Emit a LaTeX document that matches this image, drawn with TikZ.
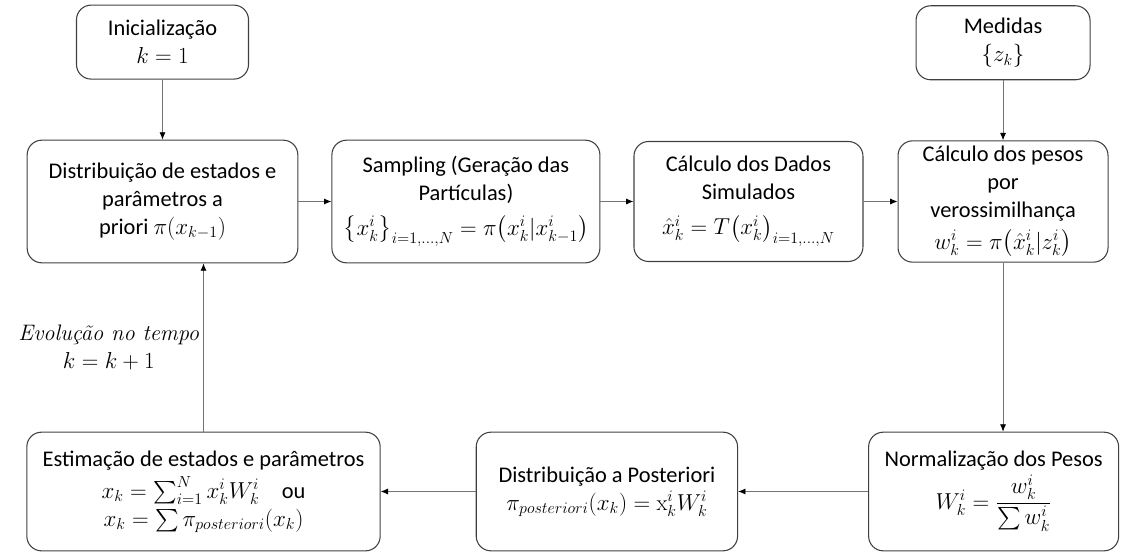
\documentclass[tikz,border=0pt]{standalone}
\usepackage{fontspec}
\setsansfont{Carlito}
\renewcommand{\familydefault}{\sfdefault}
\usepackage{amssymb,amsmath}
\usetikzlibrary{
arrows.meta,
positioning
}
\tikzset{>=latex}
\tikzset{
	blk/.style={draw=black!75,line width=0.8pt,rounded corners=11pt,align=center,inner sep=2pt},
	flow/.style={draw=black!55,line width=0.6pt,-{Latex[length=5.5pt,width=4.5pt,color=black]}}
}

\begin{document}
\begin{tikzpicture}[x=0.75pt,y=-0.75pt, node distance=24.75pt, font=\fontsize{16.8}{21}\selectfont]
	\useasboundingbox (0,0) rectangle (1127,553);

	% middle row
	\node[blk,minimum width=203pt,minimum height=92pt] (priori) at (162.5,201.5) {Distribuição de estados e\\parâmetros a\\priori $\pi(x_{k-1})$};
	\node[blk,minimum width=201pt,minimum height=92pt,right=of priori] (sampling) {Sampling (Geração das\\Partículas)\\[5pt]$\bigl\{x_k^i\bigr\}_{i=1,\dots,N}=\pi\bigl(x_k^i|x_{k-1}^i\bigr)$};
	\node[blk,minimum width=171.75pt,minimum height=90pt,right=of sampling] (dados) {Cálculo dos Dados\\Simulados\\[5pt]$\hat{x}_k^i=T\bigl(x_k^i\bigr)_{i=1,\dots,N}$};
	\node[blk,minimum width=157.5pt,minimum height=91pt,right=25.5pt of dados] (pesos) {Cálculo dos pesos\\por\\verossimilhança\\[3pt]$w_k^i=\pi\bigl(\hat{x}_k^i|z_k^i\bigr)$};

	% top row
	\node[blk,minimum width=129pt,minimum height=55.5pt,above=45pt of priori] (init) {Inicialização\\$k=1$};
	\node[blk,minimum width=130.5pt,minimum height=55.5pt,above=45pt of pesos] (medidas) {Medidas\\$\{z_k\}$};

	% bottom row
	\node[blk,minimum width=265pt,minimum height=89pt] (estim) at (203.5,491.5) {Estimação de estados e parâmetros\\[3pt]$x_k=\sum_{i=1}^{N}x_k^iW_k^i$\quad ou\\$x_k=\sum\pi_{posteriori}(x_k)$};
	\node[blk,minimum width=196pt,minimum height=89pt,right=71.25pt of estim] (posteriori) {Distribuição a Posteriori\\$\pi_{posteriori}(x_k)=\mathrm{x}_k^iW_k^i$};
	\node[blk,minimum width=187.5pt,minimum height=89pt,right=97.5pt of posteriori] (normal) {Normalização dos Pesos\\[2pt]$W_k^i=\dfrac{w_k^i}{\sum w_k^i}$};

	% connectors
	\draw[flow] (init) -- (priori);
	\draw[flow] (medidas) -- (pesos);
	\draw[flow] (priori) -- (sampling);
	\draw[flow] (sampling) -- (dados);
	\draw[flow] (dados) -- (pesos);
	\draw[flow] (pesos.south) -- (pesos.south |- normal.north);
	\draw[flow] (normal) -- (posteriori);
	\draw[flow] (posteriori) -- (estim);
	\draw[flow] (estim.north) -- node[left,align=center,inner sep=3pt] (evol) {\rmfamily\itshape Evolução no tempo\\$k=k+1$} (estim.north |- priori.south);

\end{tikzpicture}
\end{document}
